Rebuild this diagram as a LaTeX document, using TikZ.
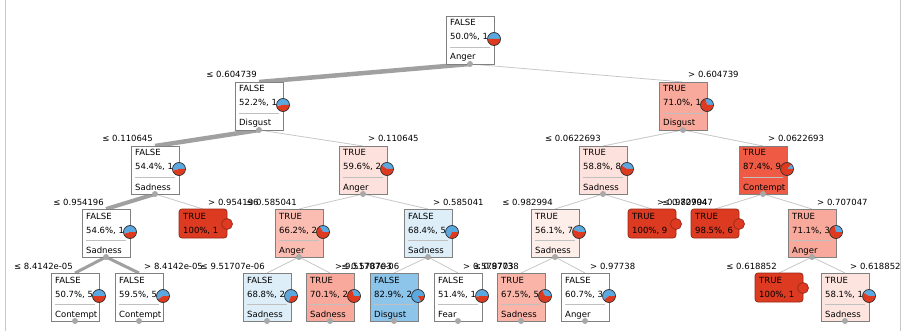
\documentclass[tikz,border=0pt]{standalone}
\usepackage{fontspec}
\setmainfont{DejaVu Sans}
\usetikzlibrary{calc,backgrounds}
\definecolor{pblue}{HTML}{5BA8E0}
\definecolor{pred}{HTML}{DD3A20}
\definecolor{leafred}{HTML}{DC3A21}
\definecolor{leafedge}{HTML}{9A2A18}
\definecolor{boxgray}{HTML}{808080}
\definecolor{sepgray}{HTML}{C0C0C0}
\definecolor{dotgray}{HTML}{A8A8A8}
\definecolor{edgegray}{HTML}{A0A0A0}
\definecolor{thingray}{HTML}{C8C8C8}
\definecolor{pieedge}{HTML}{303030}
\definecolor{pinkA}{HTML}{F9A99B}
\definecolor{pinkB}{HTML}{FDE1DC}
\definecolor{pinkC}{HTML}{FBBDB2}
\definecolor{pinkD}{HTML}{FDEEEA}
\definecolor{pinkE}{HTML}{FAB4A8}
\definecolor{pinkF}{HTML}{FDE4DF}
\definecolor{redC}{HTML}{EE5A44}
\definecolor{blueA}{HTML}{DDEEF9}
\definecolor{blueB}{HTML}{8DC4EA}
\tikzset{
  box/.style={draw=boxgray, line width=0.8pt, minimum width=48pt, minimum height=48pt, inner sep=0pt, outer sep=0pt, anchor=north},
  leafbox/.style={draw=leafedge, fill=leafred, rounded corners=3pt, line width=0.8pt, minimum width=48pt, minimum height=29pt, inner sep=0pt, outer sep=0pt, anchor=north},
  txt/.style={font=\fontsize{8.5}{10}\selectfont, inner sep=0pt, anchor=base west, text=black},
  lblL/.style={font=\fontsize{8.5}{10}\selectfont, inner sep=0pt, anchor=base east, text=black},
  lblR/.style={font=\fontsize{8.5}{10}\selectfont, inner sep=0pt, anchor=base west, text=black},
  sepline/.style={draw=sepgray, line width=0.6pt},
  dotmark/.style={circle, fill=dotgray, minimum size=6pt, inner sep=0pt},
  leafdot/.style={circle, fill=leafred, draw=leafedge, line width=0.7pt, minimum size=11pt, inner sep=0pt},
  heavy/.style={draw=edgegray, line width=#1},
  light/.style={draw=thingray, line width=0.8pt},
}
% name, cx, top, fill, class, pct, attribute, blue fraction
\newcommand\TN[8]{%
  \node[box, fill=#4] (#1) at (#2,#3) {};
  \begin{scope}
    \clip (#1.north west) rectangle (#1.south east);
    \node[txt] (#1-c) at ($(#1.north west)+(4,10)$) {#5};
    \node[txt] (#1-p) at ($(#1.north west)+(4,24)$) {#6};
    \draw[sepline] ($(#1.north west)+(4,31)$) -- ($(#1.north east)+(-4,31)$);
    \node[txt] (#1-a) at ($(#1.north west)+(4,44)$) {#7};
  \end{scope}
  \coordinate (#1-pc) at ($(#1.north east)+(0,23)$);
  \begin{scope}[shift={(#1-pc)}, yscale=-1]
    \fill[pblue] (0,0) -- (0:6.5) arc[start angle=0, end angle={#8*360}, radius=6.5] -- cycle;
    \fill[pred] (0,0) -- ({#8*360}:6.5) arc[start angle={#8*360}, end angle=360, radius=6.5] -- cycle;
    \draw[pieedge, line width=0.7pt] (0,0) circle[radius=6.5];
  \end{scope}
  \node[dotmark] (#1-d) at (#1.south) {};
}
% name, cx, top, pct
\newcommand\TL[4]{%
  \node[leafbox] (#1) at (#2,#3) {};
  \begin{scope}
    \clip (#1.north west) rectangle (#1.south east);
    \node[txt] (#1-c) at ($(#1.north west)+(4,10)$) {TRUE};
    \node[txt] (#1-p) at ($(#1.north west)+(4,24)$) {#4};
  \end{scope}
  \node[leafdot] (#1-pc) at ($(#1.north east)+(0,15)$) {};
}
\begin{document}
\begin{tikzpicture}[x=1pt, y=-1pt]
\useasboundingbox (0,0) rectangle (909,331);

\TN{root}{470}{16}{white}{FALSE}{50.0\%, 1}{Anger}{0.5}
\TN{dis}{259}{82}{white}{FALSE}{52.2\%, 1}{Disgust}{0.522}
\TN{disb}{683}{82}{pinkA}{TRUE}{71.0\%, 1}{Disgust}{0.29}
\TN{sa}{155}{146}{white}{FALSE}{54.4\%, 1}{Sadness}{0.544}
\TN{aa}{363}{146}{pinkB}{TRUE}{59.6\%, 2}{Anger}{0.404}
\TN{sb}{603}{146}{pinkB}{TRUE}{58.8\%, 8}{Sadness}{0.412}
\TN{ca}{763}{146}{redC}{TRUE}{87.4\%, 9}{Contempt}{0.126}
\TN{sc}{106}{209}{white}{FALSE}{54.6\%, 1}{Sadness}{0.546}
\TL{la}{203}{209}{100\%, 1}
\TN{ab}{299}{209}{pinkC}{TRUE}{66.2\%, 2}{Anger}{0.338}
\TN{sd}{428}{209}{blueA}{FALSE}{68.4\%, 5}{Sadness}{0.684}
\TN{se}{555}{209}{pinkD}{TRUE}{56.1\%, 7}{Sadness}{0.439}
\TL{lb}{652}{209}{100\%, 9}
\TL{lc}{715}{209}{98.5\%, 6}
\TN{ac}{812}{209}{pinkA}{TRUE}{71.1\%, 3}{Anger}{0.289}
\TN{cb}{75}{273}{white}{FALSE}{50.7\%, 5}{Contempt}{0.507}
\TN{cc}{139}{273}{white}{FALSE}{59.5\%, 5}{Contempt}{0.595}
\TN{sf}{267}{273}{blueA}{FALSE}{68.8\%, 2}{Sadness}{0.688}
\TN{sg}{330}{273}{pinkA}{TRUE}{70.1\%, 2}{Sadness}{0.299}
\TN{da}{394}{273}{blueB}{FALSE}{82.9\%, 2}{Disgust}{0.829}
\TN{fa}{458}{273}{white}{FALSE}{51.4\%, 1}{Fear}{0.514}
\TN{sh}{521}{273}{pinkE}{TRUE}{67.5\%, 5}{Sadness}{0.325}
\TN{ad}{585}{273}{white}{FALSE}{60.7\%, 3}{Anger}{0.607}
\TL{ld}{779}{273}{100\%, 1}
\TN{si}{845}{273}{pinkF}{TRUE}{58.1\%, 1}{Sadness}{0.419}

\begin{pgfonlayer}{background}
\fill[white] (0,0) rectangle (909,331);
\draw[draw=thingray, line width=0.8pt] (5,0) -- (5,331);
\draw[draw=thingray, line width=0.8pt] (900,0) -- (900,331);
\draw[heavy=4.5pt] (root-d.center) -- (dis.north);
\draw[light] (root-d.center) -- (disb.north);
\draw[heavy=4.5pt] (dis-d.center) -- (sa.north);
\draw[light] (dis-d.center) -- (aa.north);
\draw[light] (disb-d.center) -- (sb.north);
\draw[light] (disb-d.center) -- (ca.north);
\draw[heavy=4pt] (sa-d.center) -- (sc.north);
\draw[light] (sa-d.center) -- (la.north);
\draw[light] (aa-d.center) -- (ab.north);
\draw[light] (aa-d.center) -- (sd.north);
\draw[light] (sb-d.center) -- (se.north);
\draw[light] (sb-d.center) -- (lb.north);
\draw[light] (ca-d.center) -- (lc.north);
\draw[light] (ca-d.center) -- (ac.north);
\draw[heavy=3pt] (sc-d.center) -- (cb.north);
\draw[heavy=3pt] (sc-d.center) -- (cc.north);
\draw[light] (ab-d.center) -- (sf.north);
\draw[light] (ab-d.center) -- (sg.north);
\draw[light] (sd-d.center) -- (da.north);
\draw[light] (sd-d.center) -- (fa.north);
\draw[light] (se-d.center) -- (sh.north);
\draw[light] (se-d.center) -- (ad.north);
\draw[light] (ac-d.center) -- (ld.north);
\draw[light] (ac-d.center) -- (si.north);
\end{pgfonlayer}

\node[lblL] (dis-l) at ($(dis.north)+(-2,-4)$) {≤ 0.604739};
\node[lblR] (disb-l) at ($(disb.north)+(5,-4)$) {> 0.604739};
\node[lblL] (sa-l) at ($(sa.north)+(-2,-4)$) {≤ 0.110645};
\node[lblR] (aa-l) at ($(aa.north)+(5,-4)$) {> 0.110645};
\node[lblL] (sb-l) at ($(sb.north)+(-2,-4)$) {≤ 0.0622693};
\node[lblR] (ca-l) at ($(ca.north)+(5,-4)$) {> 0.0622693};
\node[lblL] (sc-l) at ($(sc.north)+(-2,-4)$) {≤ 0.954196};
\node[lblR] (la-l) at ($(la.north)+(5,-4)$) {> 0.954196};
\node[lblL] (ab-l) at ($(ab.north)+(-2,-4)$) {≤ 0.585041};
\node[lblR] (sd-l) at ($(sd.north)+(5,-4)$) {> 0.585041};
\node[lblL] (se-l) at ($(se.north)+(-2,-4)$) {≤ 0.982994};
\node[lblR] (lb-l) at ($(lb.north)+(5,-4)$) {> 0.982994};
\node[lblL] (lc-l) at ($(lc.north)+(-2,-4)$) {≤ 0.707047};
\node[lblR] (ac-l) at ($(ac.north)+(5,-4)$) {> 0.707047};
\node[lblL] (cb-l) at ($(cb.north)+(-2,-4)$) {≤ 8.4142e-05};
\node[lblR] (cc-l) at ($(cc.north)+(5,-4)$) {> 8.4142e-05};
\node[lblL] (sf-l) at ($(sf.north)+(-2,-4)$) {≤ 9.51707e-06};
\node[lblR] (sg-l) at ($(sg.north)+(5,-4)$) {> 9.51707e-06};
\node[lblL] (da-l) at ($(da.north)+(-2,-4)$) {≤ 0.578703};
\node[lblR] (fa-l) at ($(fa.north)+(5,-4)$) {> 0.578703};
\node[lblL] (sh-l) at ($(sh.north)+(-2,-4)$) {≤ 0.97738};
\node[lblR] (ad-l) at ($(ad.north)+(5,-4)$) {> 0.97738};
\node[lblL] (ld-l) at ($(ld.north)+(-2,-4)$) {≤ 0.618852};
\node[lblR] (si-l) at ($(si.north)+(5,-4)$) {> 0.618852};
\end{tikzpicture}
\end{document}
